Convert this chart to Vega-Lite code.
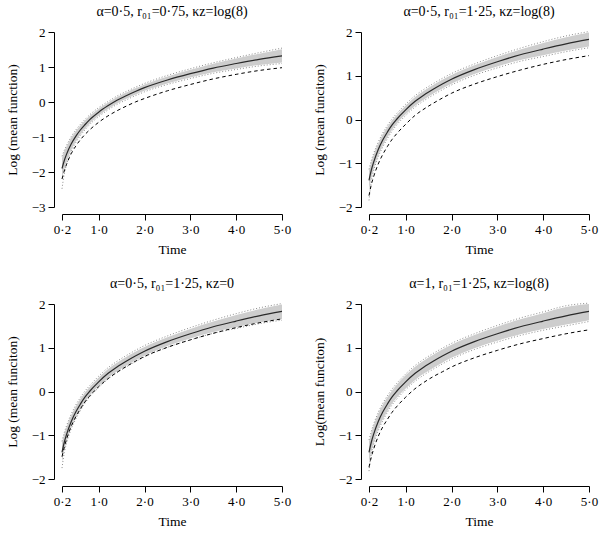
{
  "$schema": "https://vega.github.io/schema/vega-lite/v6.json",
  "background": "white",
  "padding": {"left": 5, "top": 5, "right": 5, "bottom": 5},
  "columns": 2,
  "spacing": {"row": 97, "column": 87},
  "bounds": "flush",
  "config": {
    "font": "Liberation Serif, DejaVu Serif",
    "view": {"stroke": null},
    "axis": {"grid": false, "domainColor": "#000", "tickColor": "#000", "labelColor": "#000", "titleColor": "#000", "labelFont": "Liberation Serif", "titleFont": "Liberation Serif", "labelFontSize": 13, "titleFontSize": 13.5, "titleFontWeight": "normal", "tickSize": 6, "labelPadding": 3, "labelFlush": false, "labelOverlap": false, "tickCount": 12},
    "axisX": {"offset": 7, "titlePadding": 6},
    "axisY": {"offset": 8, "titlePadding": 12},
    "title": {"font": "Liberation Serif, DejaVu Serif", "fontSize": 14, "fontWeight": "normal", "color": "#000", "offset": 7}
  },
  "datasets": {
    "p1": [
      {"t": 0.2, "est": -1.90, "lo": -2.20, "hi": -1.60, "dlo": -2.48, "dhi": -1.55, "dash": -2.20},
      {"t": 0.25, "est": -1.67, "lo": -1.93, "hi": -1.41, "dlo": -2.05, "dhi": -1.38, "dash": -1.97},
      {"t": 0.3, "est": -1.49, "lo": -1.71, "hi": -1.27, "dlo": -1.78, "dhi": -1.24, "dash": -1.78},
      {"t": 0.4, "est": -1.20, "lo": -1.38, "hi": -1.02, "dlo": -1.42, "dhi": -0.99, "dash": -1.48},
      {"t": 0.5, "est": -0.98, "lo": -1.13, "hi": -0.83, "dlo": -1.16, "dhi": -0.80, "dash": -1.26},
      {"t": 0.6, "est": -0.80, "lo": -0.93, "hi": -0.67, "dlo": -0.96, "dhi": -0.64, "dash": -1.08},
      {"t": 0.7, "est": -0.65, "lo": -0.77, "hi": -0.53, "dlo": -0.80, "dhi": -0.50, "dash": -0.93},
      {"t": 0.8, "est": -0.51, "lo": -0.62, "hi": -0.40, "dlo": -0.65, "dhi": -0.37, "dash": -0.80},
      {"t": 1.0, "est": -0.29, "lo": -0.39, "hi": -0.19, "dlo": -0.42, "dhi": -0.16, "dash": -0.58},
      {"t": 1.2, "est": -0.11, "lo": -0.20, "hi": -0.02, "dlo": -0.23, "dhi": 0.01, "dash": -0.40},
      {"t": 1.4, "est": 0.05, "lo": -0.04, "hi": 0.14, "dlo": -0.07, "dhi": 0.17, "dash": -0.25},
      {"t": 1.6, "est": 0.18, "lo": 0.09, "hi": 0.27, "dlo": 0.06, "dhi": 0.30, "dash": -0.12},
      {"t": 1.8, "est": 0.30, "lo": 0.21, "hi": 0.39, "dlo": 0.18, "dhi": 0.42, "dash": 0.00},
      {"t": 2.0, "est": 0.41, "lo": 0.32, "hi": 0.50, "dlo": 0.29, "dhi": 0.53, "dash": 0.10},
      {"t": 2.5, "est": 0.63, "lo": 0.53, "hi": 0.73, "dlo": 0.50, "dhi": 0.76, "dash": 0.32},
      {"t": 3.0, "est": 0.81, "lo": 0.70, "hi": 0.92, "dlo": 0.67, "dhi": 0.95, "dash": 0.50},
      {"t": 3.5, "est": 0.97, "lo": 0.85, "hi": 1.09, "dlo": 0.82, "dhi": 1.12, "dash": 0.66},
      {"t": 4.0, "est": 1.10, "lo": 0.96, "hi": 1.24, "dlo": 0.93, "dhi": 1.27, "dash": 0.79},
      {"t": 4.5, "est": 1.22, "lo": 1.06, "hi": 1.38, "dlo": 1.03, "dhi": 1.41, "dash": 0.90},
      {"t": 5.0, "est": 1.32, "lo": 1.13, "hi": 1.51, "dlo": 1.10, "dhi": 1.54, "dash": 0.98}
    ],
    "p2": [
      {"t": 0.2, "est": -1.39, "lo": -1.61, "hi": -1.17, "dlo": -1.85, "dhi": -1.14, "dash": -1.74},
      {"t": 0.25, "est": -1.16, "lo": -1.35, "hi": -0.97, "dlo": -1.42, "dhi": -0.94, "dash": -1.49},
      {"t": 0.3, "est": -0.98, "lo": -1.15, "hi": -0.81, "dlo": -1.18, "dhi": -0.78, "dash": -1.31},
      {"t": 0.4, "est": -0.69, "lo": -0.83, "hi": -0.55, "dlo": -0.86, "dhi": -0.52, "dash": -1.02},
      {"t": 0.5, "est": -0.47, "lo": -0.60, "hi": -0.34, "dlo": -0.63, "dhi": -0.31, "dash": -0.80},
      {"t": 0.6, "est": -0.29, "lo": -0.41, "hi": -0.17, "dlo": -0.44, "dhi": -0.14, "dash": -0.62},
      {"t": 0.7, "est": -0.13, "lo": -0.24, "hi": -0.02, "dlo": -0.27, "dhi": 0.01, "dash": -0.46},
      {"t": 0.8, "est": 0.00, "lo": -0.10, "hi": 0.10, "dlo": -0.13, "dhi": 0.13, "dash": -0.33},
      {"t": 1.0, "est": 0.22, "lo": 0.12, "hi": 0.32, "dlo": 0.09, "dhi": 0.35, "dash": -0.11},
      {"t": 1.2, "est": 0.41, "lo": 0.31, "hi": 0.51, "dlo": 0.28, "dhi": 0.54, "dash": 0.09},
      {"t": 1.4, "est": 0.56, "lo": 0.46, "hi": 0.66, "dlo": 0.43, "dhi": 0.69, "dash": 0.24},
      {"t": 1.6, "est": 0.69, "lo": 0.59, "hi": 0.79, "dlo": 0.56, "dhi": 0.82, "dash": 0.37},
      {"t": 1.8, "est": 0.81, "lo": 0.71, "hi": 0.91, "dlo": 0.68, "dhi": 0.94, "dash": 0.49},
      {"t": 2.0, "est": 0.92, "lo": 0.82, "hi": 1.02, "dlo": 0.79, "dhi": 1.05, "dash": 0.60},
      {"t": 2.5, "est": 1.14, "lo": 1.04, "hi": 1.24, "dlo": 1.01, "dhi": 1.27, "dash": 0.81},
      {"t": 3.0, "est": 1.32, "lo": 1.21, "hi": 1.43, "dlo": 1.18, "dhi": 1.46, "dash": 0.98},
      {"t": 3.5, "est": 1.48, "lo": 1.36, "hi": 1.60, "dlo": 1.33, "dhi": 1.63, "dash": 1.13},
      {"t": 4.0, "est": 1.61, "lo": 1.47, "hi": 1.75, "dlo": 1.44, "dhi": 1.78, "dash": 1.26},
      {"t": 4.5, "est": 1.73, "lo": 1.58, "hi": 1.88, "dlo": 1.55, "dhi": 1.91, "dash": 1.37},
      {"t": 5.0, "est": 1.83, "lo": 1.67, "hi": 1.99, "dlo": 1.64, "dhi": 2.01, "dash": 1.46}
    ],
    "p3": [
      {"t": 0.2, "est": -1.39, "lo": -1.61, "hi": -1.17, "dlo": -1.75, "dhi": -1.14, "dash": -1.49},
      {"t": 0.25, "est": -1.16, "lo": -1.35, "hi": -0.97, "dlo": -1.40, "dhi": -0.94, "dash": -1.27},
      {"t": 0.3, "est": -0.98, "lo": -1.15, "hi": -0.81, "dlo": -1.18, "dhi": -0.78, "dash": -1.09},
      {"t": 0.4, "est": -0.69, "lo": -0.83, "hi": -0.55, "dlo": -0.86, "dhi": -0.52, "dash": -0.80},
      {"t": 0.5, "est": -0.47, "lo": -0.60, "hi": -0.34, "dlo": -0.63, "dhi": -0.31, "dash": -0.58},
      {"t": 0.6, "est": -0.29, "lo": -0.41, "hi": -0.17, "dlo": -0.44, "dhi": -0.14, "dash": -0.40},
      {"t": 0.7, "est": -0.13, "lo": -0.24, "hi": -0.02, "dlo": -0.27, "dhi": 0.01, "dash": -0.24},
      {"t": 0.8, "est": 0.00, "lo": -0.10, "hi": 0.10, "dlo": -0.13, "dhi": 0.13, "dash": -0.11},
      {"t": 1.0, "est": 0.22, "lo": 0.12, "hi": 0.32, "dlo": 0.09, "dhi": 0.35, "dash": 0.11},
      {"t": 1.2, "est": 0.41, "lo": 0.31, "hi": 0.51, "dlo": 0.28, "dhi": 0.54, "dash": 0.29},
      {"t": 1.4, "est": 0.56, "lo": 0.46, "hi": 0.66, "dlo": 0.43, "dhi": 0.69, "dash": 0.44},
      {"t": 1.6, "est": 0.69, "lo": 0.59, "hi": 0.79, "dlo": 0.56, "dhi": 0.82, "dash": 0.57},
      {"t": 1.8, "est": 0.81, "lo": 0.71, "hi": 0.91, "dlo": 0.68, "dhi": 0.94, "dash": 0.69},
      {"t": 2.0, "est": 0.92, "lo": 0.82, "hi": 1.02, "dlo": 0.79, "dhi": 1.05, "dash": 0.80},
      {"t": 2.5, "est": 1.14, "lo": 1.04, "hi": 1.24, "dlo": 1.01, "dhi": 1.27, "dash": 1.01},
      {"t": 3.0, "est": 1.32, "lo": 1.21, "hi": 1.43, "dlo": 1.18, "dhi": 1.46, "dash": 1.18},
      {"t": 3.5, "est": 1.48, "lo": 1.36, "hi": 1.60, "dlo": 1.33, "dhi": 1.63, "dash": 1.33},
      {"t": 4.0, "est": 1.61, "lo": 1.47, "hi": 1.75, "dlo": 1.44, "dhi": 1.78, "dash": 1.46},
      {"t": 4.5, "est": 1.73, "lo": 1.58, "hi": 1.88, "dlo": 1.55, "dhi": 1.91, "dash": 1.57},
      {"t": 5.0, "est": 1.83, "lo": 1.66, "hi": 1.99, "dlo": 1.63, "dhi": 2.01, "dash": 1.66}
    ],
    "p4": [
      {"t": 0.2, "est": -1.39, "lo": -1.64, "hi": -1.14, "dlo": -1.82, "dhi": -1.11, "dash": -1.73},
      {"t": 0.25, "est": -1.16, "lo": -1.38, "hi": -0.94, "dlo": -1.43, "dhi": -0.91, "dash": -1.50},
      {"t": 0.3, "est": -0.98, "lo": -1.18, "hi": -0.78, "dlo": -1.21, "dhi": -0.75, "dash": -1.32},
      {"t": 0.4, "est": -0.69, "lo": -0.87, "hi": -0.51, "dlo": -0.90, "dhi": -0.48, "dash": -1.03},
      {"t": 0.5, "est": -0.47, "lo": -0.64, "hi": -0.30, "dlo": -0.67, "dhi": -0.27, "dash": -0.81},
      {"t": 0.6, "est": -0.29, "lo": -0.45, "hi": -0.13, "dlo": -0.48, "dhi": -0.10, "dash": -0.64},
      {"t": 0.7, "est": -0.13, "lo": -0.28, "hi": 0.02, "dlo": -0.31, "dhi": 0.05, "dash": -0.48},
      {"t": 0.8, "est": 0.00, "lo": -0.15, "hi": 0.15, "dlo": -0.18, "dhi": 0.18, "dash": -0.35},
      {"t": 1.0, "est": 0.22, "lo": 0.07, "hi": 0.37, "dlo": 0.04, "dhi": 0.40, "dash": -0.13},
      {"t": 1.2, "est": 0.41, "lo": 0.26, "hi": 0.56, "dlo": 0.23, "dhi": 0.59, "dash": 0.06},
      {"t": 1.4, "est": 0.56, "lo": 0.41, "hi": 0.71, "dlo": 0.38, "dhi": 0.74, "dash": 0.21},
      {"t": 1.6, "est": 0.69, "lo": 0.54, "hi": 0.84, "dlo": 0.51, "dhi": 0.87, "dash": 0.34},
      {"t": 1.8, "est": 0.81, "lo": 0.66, "hi": 0.96, "dlo": 0.63, "dhi": 0.99, "dash": 0.45},
      {"t": 2.0, "est": 0.92, "lo": 0.77, "hi": 1.07, "dlo": 0.74, "dhi": 1.10, "dash": 0.56},
      {"t": 2.5, "est": 1.14, "lo": 0.99, "hi": 1.29, "dlo": 0.96, "dhi": 1.32, "dash": 0.77},
      {"t": 3.0, "est": 1.32, "lo": 1.16, "hi": 1.48, "dlo": 1.13, "dhi": 1.51, "dash": 0.94},
      {"t": 3.5, "est": 1.48, "lo": 1.31, "hi": 1.65, "dlo": 1.28, "dhi": 1.68, "dash": 1.09},
      {"t": 4.0, "est": 1.61, "lo": 1.43, "hi": 1.79, "dlo": 1.40, "dhi": 1.82, "dash": 1.21},
      {"t": 4.5, "est": 1.73, "lo": 1.53, "hi": 1.93, "dlo": 1.50, "dhi": 1.96, "dash": 1.32},
      {"t": 5.0, "est": 1.83, "lo": 1.63, "hi": 2.00, "dlo": 1.60, "dhi": 2.02, "dash": 1.41}
    ]
  },
  "concat": [
    {
      "title": "α=0·5, r₀₁=0·75, κz=log(8)",
      "width": 220, "height": 175,
      "data": {"name": "p1"},
      "encoding": {"x": {"field": "t", "type": "quantitative", "title": "Time", "scale": {"domain": [0.2, 5]}, "axis": {"values": [0.2, 1, 2, 3, 4, 5], "format": ".1f", "labelExpr": "replace(datum.label, '.', '·')", "labelOverlap": false, "tickCount": 12}}},
      "layer": [
        {"mark": {"type": "area", "color": "#cdcdcd", "interpolate": "monotone"}, "encoding": {"y": {"field": "lo", "type": "quantitative", "title": "Log (mean function)", "scale": {"domain": [-3, 2]}, "axis": {"values": [-3, -2, -1, 0, 1, 2], "format": "d", "labelOverlap": false, "tickCount": 12}}, "y2": {"field": "hi"}}},
        {"mark": {"type": "line", "color": "#808080", "strokeWidth": 0.9, "strokeDash": [1, 2], "interpolate": "monotone"}, "encoding": {"y": {"field": "dlo", "type": "quantitative", "title": "Log (mean function)", "scale": {"domain": [-3, 2]}}}},
        {"mark": {"type": "line", "color": "#808080", "strokeWidth": 0.9, "strokeDash": [1, 2], "interpolate": "monotone"}, "encoding": {"y": {"field": "dhi", "type": "quantitative", "title": "Log (mean function)", "scale": {"domain": [-3, 2]}}}},
        {"mark": {"type": "line", "color": "#000", "strokeWidth": 1, "strokeDash": [3.5, 3], "interpolate": "monotone"}, "encoding": {"y": {"field": "dash", "type": "quantitative", "title": "Log (mean function)", "scale": {"domain": [-3, 2]}}}},
        {"mark": {"type": "line", "color": "#2a2a2a", "strokeWidth": 1.2, "interpolate": "monotone"}, "encoding": {"y": {"field": "est", "type": "quantitative", "title": "Log (mean function)", "scale": {"domain": [-3, 2]}}}}
      ]
    },
    {
      "title": "α=0·5, r₀₁=1·25, κz=log(8)",
      "width": 220, "height": 175,
      "data": {"name": "p2"},
      "encoding": {"x": {"field": "t", "type": "quantitative", "title": "Time", "scale": {"domain": [0.2, 5]}, "axis": {"values": [0.2, 1, 2, 3, 4, 5], "format": ".1f", "labelExpr": "replace(datum.label, '.', '·')", "labelOverlap": false, "tickCount": 12}}},
      "layer": [
        {"mark": {"type": "area", "color": "#cdcdcd", "interpolate": "monotone"}, "encoding": {"y": {"field": "lo", "type": "quantitative", "title": "Log (mean funciton)", "scale": {"domain": [-2, 2]}, "axis": {"values": [-2, -1, 0, 1, 2], "format": "d", "labelOverlap": false, "tickCount": 12}}, "y2": {"field": "hi"}}},
        {"mark": {"type": "line", "color": "#808080", "strokeWidth": 0.9, "strokeDash": [1, 2], "interpolate": "monotone"}, "encoding": {"y": {"field": "dlo", "type": "quantitative", "title": "Log (mean funciton)", "scale": {"domain": [-2, 2]}}}},
        {"mark": {"type": "line", "color": "#808080", "strokeWidth": 0.9, "strokeDash": [1, 2], "interpolate": "monotone"}, "encoding": {"y": {"field": "dhi", "type": "quantitative", "title": "Log (mean funciton)", "scale": {"domain": [-2, 2]}}}},
        {"mark": {"type": "line", "color": "#000", "strokeWidth": 1, "strokeDash": [3.5, 3], "interpolate": "monotone"}, "encoding": {"y": {"field": "dash", "type": "quantitative", "title": "Log (mean funciton)", "scale": {"domain": [-2, 2]}}}},
        {"mark": {"type": "line", "color": "#2a2a2a", "strokeWidth": 1.2, "interpolate": "monotone"}, "encoding": {"y": {"field": "est", "type": "quantitative", "title": "Log (mean funciton)", "scale": {"domain": [-2, 2]}}}}
      ]
    },
    {
      "title": "α=0·5, r₀₁=1·25, κz=0",
      "width": 220, "height": 175,
      "data": {"name": "p3"},
      "encoding": {"x": {"field": "t", "type": "quantitative", "title": "Time", "scale": {"domain": [0.2, 5]}, "axis": {"values": [0.2, 1, 2, 3, 4, 5], "format": ".1f", "labelExpr": "replace(datum.label, '.', '·')", "labelOverlap": false, "tickCount": 12}}},
      "layer": [
        {"mark": {"type": "area", "color": "#cdcdcd", "interpolate": "monotone"}, "encoding": {"y": {"field": "lo", "type": "quantitative", "title": "Log (mean funciton)", "scale": {"domain": [-2, 2]}, "axis": {"values": [-2, -1, 0, 1, 2], "format": "d", "labelOverlap": false, "tickCount": 12}}, "y2": {"field": "hi"}}},
        {"mark": {"type": "line", "color": "#808080", "strokeWidth": 0.9, "strokeDash": [1, 2], "interpolate": "monotone"}, "encoding": {"y": {"field": "dlo", "type": "quantitative", "title": "Log (mean funciton)", "scale": {"domain": [-2, 2]}}}},
        {"mark": {"type": "line", "color": "#808080", "strokeWidth": 0.9, "strokeDash": [1, 2], "interpolate": "monotone"}, "encoding": {"y": {"field": "dhi", "type": "quantitative", "title": "Log (mean funciton)", "scale": {"domain": [-2, 2]}}}},
        {"mark": {"type": "line", "color": "#000", "strokeWidth": 1, "strokeDash": [3.5, 3], "interpolate": "monotone"}, "encoding": {"y": {"field": "dash", "type": "quantitative", "title": "Log (mean funciton)", "scale": {"domain": [-2, 2]}}}},
        {"mark": {"type": "line", "color": "#2a2a2a", "strokeWidth": 1.2, "interpolate": "monotone"}, "encoding": {"y": {"field": "est", "type": "quantitative", "title": "Log (mean funciton)", "scale": {"domain": [-2, 2]}}}}
      ]
    },
    {
      "title": "α=1, r₀₁=1·25, κz=log(8)",
      "width": 220, "height": 175,
      "data": {"name": "p4"},
      "encoding": {"x": {"field": "t", "type": "quantitative", "title": "Time", "scale": {"domain": [0.2, 5]}, "axis": {"values": [0.2, 1, 2, 3, 4, 5], "format": ".1f", "labelExpr": "replace(datum.label, '.', '·')", "labelOverlap": false, "tickCount": 12}}},
      "layer": [
        {"mark": {"type": "area", "color": "#cdcdcd", "interpolate": "monotone"}, "encoding": {"y": {"field": "lo", "type": "quantitative", "title": "Log(mean funciton)", "scale": {"domain": [-2, 2]}, "axis": {"values": [-2, -1, 0, 1, 2], "format": "d", "labelOverlap": false, "tickCount": 12}}, "y2": {"field": "hi"}}},
        {"mark": {"type": "line", "color": "#808080", "strokeWidth": 0.9, "strokeDash": [1, 2], "interpolate": "monotone"}, "encoding": {"y": {"field": "dlo", "type": "quantitative", "title": "Log(mean funciton)", "scale": {"domain": [-2, 2]}}}},
        {"mark": {"type": "line", "color": "#808080", "strokeWidth": 0.9, "strokeDash": [1, 2], "interpolate": "monotone"}, "encoding": {"y": {"field": "dhi", "type": "quantitative", "title": "Log(mean funciton)", "scale": {"domain": [-2, 2]}}}},
        {"mark": {"type": "line", "color": "#000", "strokeWidth": 1, "strokeDash": [3.5, 3], "interpolate": "monotone"}, "encoding": {"y": {"field": "dash", "type": "quantitative", "title": "Log(mean funciton)", "scale": {"domain": [-2, 2]}}}},
        {"mark": {"type": "line", "color": "#2a2a2a", "strokeWidth": 1.2, "interpolate": "monotone"}, "encoding": {"y": {"field": "est", "type": "quantitative", "title": "Log(mean funciton)", "scale": {"domain": [-2, 2]}}}}
      ]
    }
  ]
}
